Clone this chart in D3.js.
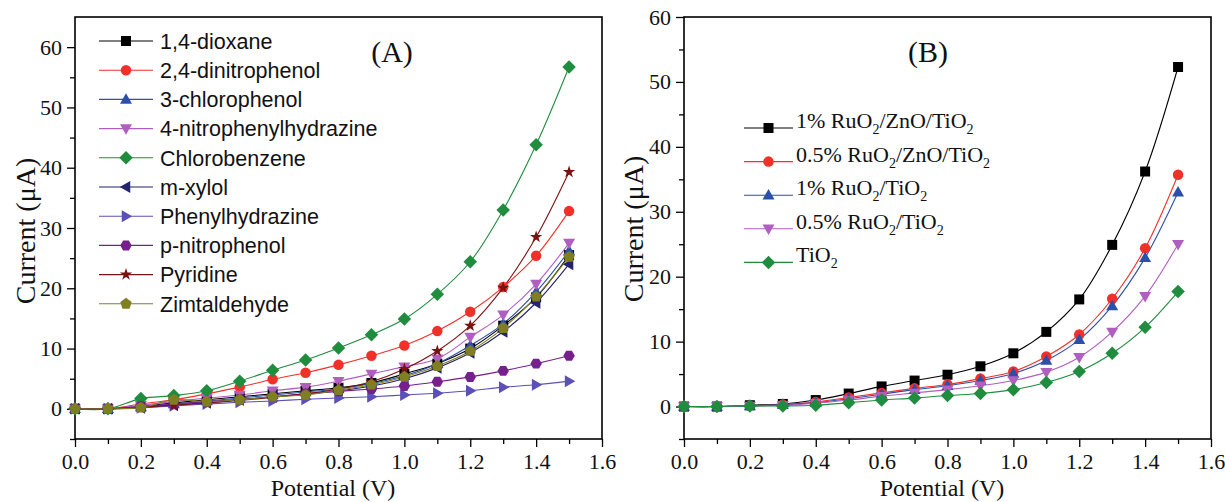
<!DOCTYPE html>
<html><head><meta charset="utf-8">
<script src="https://cdn.jsdelivr.net/npm/d3@7"></script>
<style>body{margin:0;background:#fff}</style>
</head><body>
<svg id="chart" width="1225" height="502"></svg>
<script>
// ---------------- DATA ----------------
const potential = [0.0,0.1,0.2,0.3,0.4,0.5,0.6,0.7,0.8,0.9,1.0,1.1,1.2,1.3,1.4,1.5];
const xTicks = [0.0,0.2,0.4,0.6,0.8,1.0,1.2,1.4,1.6];
const yTicksA = [0,10,20,30,40,50,60];
const yTicksB = [0,10,20,30,40,50,60];

// Panel A series
const namesA = ["1,4-dioxane","2,4-dinitrophenol","3-chlorophenol","4-nitrophenylhydrazine","Chlorobenzene","m-xylol","Phenylhydrazine","p-nitrophenol","Pyridine","Zimtaldehyde"];
const dioxane        = [0,0,0.4,1.0,1.5,2.0,2.5,3.0,3.5,4.3,5.8,7.5,10.0,13.8,18.5,25.5];
const dinitrophenol  = [0,0,0.8,1.5,2.5,3.6,4.9,6.0,7.3,8.8,10.5,12.9,16.1,20.2,25.4,32.8];
const chlorophenol   = [0,0,0.3,0.8,1.3,1.8,2.3,2.8,3.3,4.2,5.5,7.5,10.5,14.1,19.4,26.2];
const nitrophenylhyd = [0,0,0.6,1.2,1.8,2.3,3.0,3.6,4.6,5.8,7.0,8.3,11.9,15.6,20.7,27.5];
const chlorobenzene  = [0,0,1.7,2.2,3.0,4.6,6.4,8.1,10.1,12.3,14.9,19.0,24.4,33.0,43.8,56.7];
const mxylol         = [0,0,0.2,0.6,1.0,1.5,2.0,2.5,3.0,3.8,5.0,6.8,9.3,12.8,17.6,24.0];
const phenylhydrazine= [0,0,0.2,0.5,0.8,1.1,1.3,1.6,1.8,2.0,2.3,2.6,3.0,3.6,4.0,4.6];
const pnitrophenol   = [0,0,0.4,0.8,1.2,1.6,2.0,2.5,2.9,3.3,3.8,4.5,5.3,6.3,7.5,8.8];
const pyridine       = [0,0,0.3,0.6,1.0,1.4,1.9,2.5,3.3,4.5,6.6,9.6,13.8,20.1,28.5,39.3];
const zimtaldehyde   = [0,0,0.2,1.5,1.2,1.5,2.0,2.3,3.1,4.0,5.3,7.1,9.6,13.4,18.6,25.2];
const valuesA = [dioxane,dinitrophenol,chlorophenol,nitrophenylhyd,chlorobenzene,mxylol,phenylhydrazine,pnitrophenol,pyridine,zimtaldehyde];
const colorsA = ["#000000","#f2302a","#2c4fa8","#b05ec0","#1f8c3e","#23236e","#5a50b8","#75208c","#7a1212","#7f7f22"];
const shapesA = ["square","circle","triUp","triDown","diamond","triLeft","triRight","hexagon","star","pentagon"];

// Panel B series (label parts: [text, isSubscript])
const namesB = [
  [["1% RuO",0],["2",1],["/ZnO/TiO",0],["2",1]],
  [["0.5% RuO",0],["2",1],["/ZnO/TiO",0],["2",1]],
  [["1% RuO",0],["2",1],["/TiO",0],["2",1]],
  [["0.5% RuO",0],["2",1],["/TiO",0],["2",1]],
  [["TiO",0],["2",1]]
];
const ru1ZnTi  = [0,0,0.2,0.4,1.0,2.0,3.1,4.0,4.9,6.2,8.2,11.5,16.5,24.9,36.2,52.3];
const ru05ZnTi = [0,0,0.1,0.3,0.7,1.4,2.1,2.8,3.4,4.3,5.4,7.7,11.1,16.6,24.4,35.7];
const ru1Ti    = [0,0,0.1,0.3,0.6,1.2,1.9,2.6,3.2,4.0,5.1,7.1,10.3,15.5,22.9,33.0];
const ru05Ti   = [0,0,0.1,0.2,0.5,1.0,1.6,2.1,2.6,3.2,4.0,5.3,7.6,11.5,17.0,25.0];
const tio2     = [0,0,0.1,0.1,0.2,0.6,1.0,1.3,1.7,2.0,2.6,3.7,5.4,8.2,12.2,17.7];
const valuesB = [ru1ZnTi,ru05ZnTi,ru1Ti,ru05Ti,tio2];
const colorsB = ["#000000","#f2302a","#2c4fa8","#b05ec0","#1f8c3e"];
const shapesB = ["square","circle","triUp","triDown","diamond"];

// ---------------- DRAWING ----------------
const svg = d3.select("#chart");
const SERIF = "'Liberation Serif','Times New Roman',serif";
const SANS = "'Liberation Sans',Arial,sans-serif";

function poly(pts){ return "M" + pts.map(p=>p[0].toFixed(2)+","+p[1].toFixed(2)).join("L") + "Z"; }
function marker(type, s){
  switch(type){
    case "square": return poly([[-s,-s],[s,-s],[s,s],[-s,s]]);
    case "circle": return `M${s*1.05},0A${s*1.05},${s*1.05} 0 1,1 ${-s*1.05},0A${s*1.05},${s*1.05} 0 1,1 ${s*1.05},0Z`;
    case "triUp": return poly([[0,-s*1.25],[s*1.2,s*0.85],[-s*1.2,s*0.85]]);
    case "triDown": return poly([[0,s*1.25],[s*1.2,-s*0.85],[-s*1.2,-s*0.85]]);
    case "triLeft": return poly([[-s*1.25,0],[s*0.85,-s*1.2],[s*0.85,s*1.2]]);
    case "triRight": return poly([[s*1.25,0],[-s*0.85,-s*1.2],[-s*0.85,s*1.2]]);
    case "diamond": return poly([[0,-s*1.35],[s*1.35,0],[0,s*1.35],[-s*1.35,0]]);
    case "hexagon": return poly(d3.range(6).map(i=>{const a=Math.PI/3*i; return [Math.cos(a)*s*1.15, Math.sin(a)*s*1.15];}));
    case "pentagon": return poly(d3.range(5).map(i=>{const a=-Math.PI/2+2*Math.PI/5*i; return [Math.cos(a)*s*1.2, Math.sin(a)*s*1.2];}));
    case "star": return poly(d3.range(10).map(i=>{const a=-Math.PI/2+Math.PI/5*i; const r=i%2?s*0.5:s*1.3; return [Math.cos(a)*r, Math.sin(a)*r];}));
  }
}

function panel(cfg){
  const g = svg.append("g");
  const x = d3.scaleLinear().domain([0,1.6]).range([cfg.left, cfg.right]);
  const y = d3.scaleLinear().domain(cfg.yDomain).range([cfg.bottom, cfg.top]);

  // minor ticks
  const minorX = d3.range(1,16,2).map(i=>i/10);
  const minorY = d3.range(cfg.yDomain[0], cfg.yDomain[1]+0.01, 10).filter(v=>v<cfg.yDomain[1]);
  g.append("g").attr("transform",`translate(0,${cfg.bottom})`)
    .call(d3.axisBottom(x).tickValues(minorX).tickSize(5).tickFormat("").tickSizeOuter(0))
    .call(a=>a.select(".domain").remove()).selectAll("line").attr("stroke-width",1.3);
  g.append("g").attr("transform",`translate(${cfg.left},0)`)
    .call(d3.axisLeft(y).tickValues(minorY).tickSize(5).tickFormat("").tickSizeOuter(0))
    .call(a=>a.select(".domain").remove()).selectAll("line").attr("stroke-width",1.3);

  // major ticks
  const ax = g.append("g").attr("transform",`translate(0,${cfg.bottom})`)
    .call(d3.axisBottom(x).tickValues(xTicks).tickSize(8).tickPadding(6).tickFormat(d3.format(".1f")).tickSizeOuter(0));
  ax.select(".domain").remove();
  ax.selectAll("line").attr("stroke-width",1.3);
  ax.selectAll("text").attr("font-family",SERIF).attr("font-size",22).attr("fill","#111");
  const ay = g.append("g").attr("transform",`translate(${cfg.left},0)`)
    .call(d3.axisLeft(y).tickValues(cfg.yTicks).tickSize(8).tickPadding(5).tickFormat(d3.format("d")).tickSizeOuter(0));
  ay.select(".domain").remove();
  ay.selectAll("line").attr("stroke-width",1.3);
  ay.selectAll("text").attr("font-family",SERIF).attr("font-size",22).attr("fill","#111");

  // frame
  g.append("rect").attr("x",cfg.left).attr("y",cfg.top)
    .attr("width",cfg.right-cfg.left).attr("height",cfg.bottom-cfg.top)
    .attr("fill","none").attr("stroke","#000").attr("stroke-width",1.6);

  // series
  const line = d3.line().x((d,i)=>x(potential[i])).y(d=>y(d)).curve(d3.curveCatmullRom.alpha(0.5));
  cfg.values.forEach((vals,k)=>{
    g.append("path").attr("d",line(vals)).attr("fill","none").attr("stroke",cfg.colors[k]).attr("stroke-width",1.1);
  });
  cfg.values.forEach((vals,k)=>{
    g.append("g").selectAll("path").data(vals).join("path")
      .attr("transform",(d,i)=>`translate(${x(potential[i])},${y(d)})`)
      .attr("d",marker(cfg.shapes[k], cfg.ms))
      .attr("fill",cfg.colors[k]);
  });

  // axis titles
  g.append("text").attr("x",cfg.xTitleX).attr("y",496).attr("text-anchor","middle")
    .attr("font-family",SERIF).attr("font-size",24).attr("fill","#111").text("Potential (V)");
  g.append("text").attr("transform",`translate(${cfg.yTitleX},${cfg.yTitleY}) rotate(-90)`).attr("text-anchor","middle")
    .attr("font-family",SERIF).attr("font-size",28).attr("fill","#111").text("Current (\u03bcA)");
  // panel label
  g.append("text").attr("x",cfg.labelX).attr("y",62).attr("text-anchor","middle")
    .attr("font-family",SERIF).attr("font-size",30).attr("fill","#111").text(cfg.label);

  // legend
  const lg = g.append("g");
  cfg.legendNames.forEach((nm,k)=>{
    const ly = cfg.leg.y0 + k*cfg.leg.dy;
    lg.append("line").attr("x1",cfg.leg.x1).attr("x2",cfg.leg.x2).attr("y1",ly).attr("y2",ly)
      .attr("stroke",cfg.colors[k]).attr("stroke-width",1.1);
    lg.append("path").attr("transform",`translate(${(cfg.leg.x1+cfg.leg.x2)/2},${ly})`)
      .attr("d",marker(cfg.shapes[k], cfg.ms)).attr("fill",cfg.colors[k]);
    const t = lg.append("text").attr("x",cfg.leg.tx).attr("y",ly).attr("dy","0.36em")
      .attr("font-family",cfg.leg.font).attr("font-size",cfg.leg.fs).attr("fill","#111");
    if (typeof nm === "string") t.text(nm);
    else {
      let acc = 0;
      nm.forEach(([s,sub])=>{
        const target = sub ? 6 : 0;
        const sp = t.append("tspan").text(s).attr("dy", target-acc);
        if (sub) sp.attr("font-size",14);
        acc = target;
      });
    }
  });
}

panel({left:75,right:602,top:17,bottom:439,yDomain:[-5,65],yTicks:yTicksA,
  values:valuesA,colors:colorsA,shapes:shapesA,ms:5,
  xTitleX:333,yTitleX:35,yTitleY:231,labelX:392,label:"(A)",
  legendNames:namesA,leg:{x1:99,x2:153,tx:160,y0:41,dy:29.2,font:SANS,fs:21.5}});

panel({left:684,right:1211,top:17,bottom:439,yDomain:[-5,60],yTicks:yTicksB,
  values:valuesB,colors:colorsB,shapes:shapesB,ms:5,
  xTitleX:942,yTitleX:643,yTitleY:229,labelX:928,label:"(B)",
  legendNames:namesB,leg:{x1:744,x2:793,tx:796,y0:128,dy:33.6,font:SERIF,fs:22}});
</script>
</body></html>
